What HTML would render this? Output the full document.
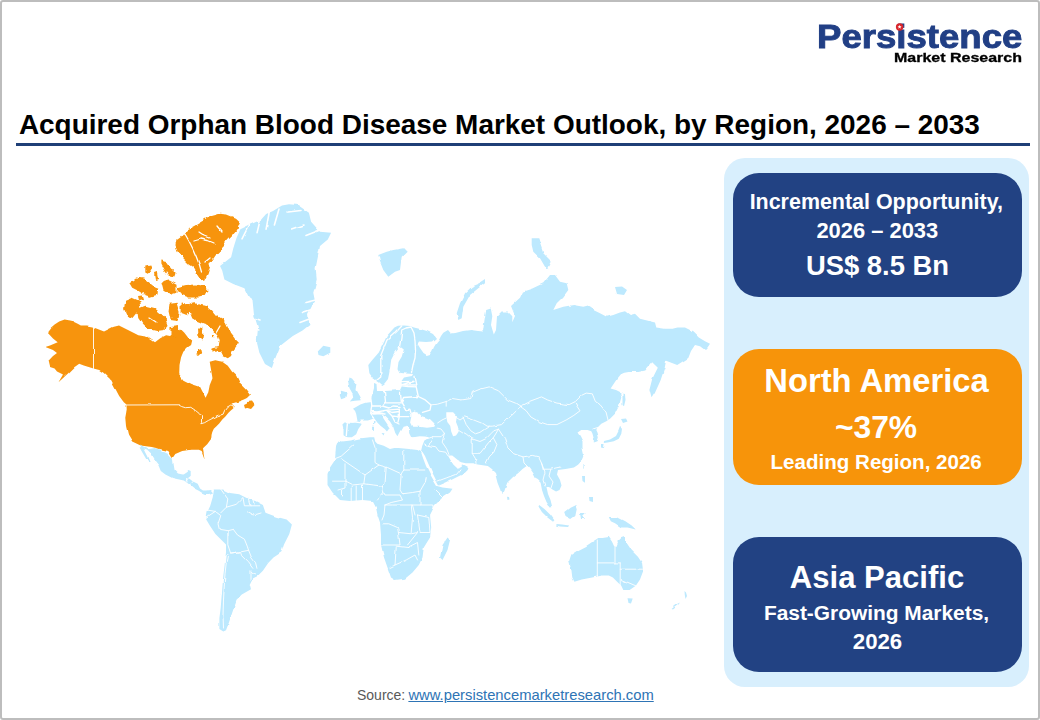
<!DOCTYPE html>
<html><head><meta charset="utf-8">
<style>
html,body{margin:0;padding:0;background:#fff;}
body{width:1040px;height:720px;position:relative;overflow:hidden;font-family:"Liberation Sans",Arial,sans-serif;}
.t{position:absolute;line-height:1;white-space:nowrap;}
.frame{position:absolute;left:0;top:0;width:1036px;height:716px;border:2px solid #bdbdbd;border-radius:3px;}
.rule{position:absolute;left:16px;top:143.2px;width:1014px;height:3.3px;background:#1f3f77;}
.panel{position:absolute;left:724.4px;top:158.3px;width:305px;height:529px;background:#d8effd;border-radius:21px;}
.box{position:absolute;left:733.2px;width:288.6px;border-radius:26px;}
.navy{background:#224283;}
.orange{background:#f7940a;}
svg.map{position:absolute;left:0;top:0;}
.logo1{position:absolute;left:817.4px;top:21.17px;font-size:32.4px;line-height:1;font-weight:bold;color:#213f85;transform:scaleX(1.129);transform-origin:0 0;-webkit-text-stroke:0.9px #213f85;letter-spacing:0;}
.logo2{position:absolute;left:894.2px;top:51.65px;font-size:12.7px;line-height:1;font-weight:bold;color:#000;transform:scaleX(1.26);transform-origin:0 0;-webkit-text-stroke:0.3px #000;}
.src{position:absolute;left:357px;top:688.45px;font-size:14.0px;line-height:1;color:#595959;white-space:nowrap;}
.src2{position:absolute;left:408.4px;top:687.79px;font-size:14.78px;line-height:1;white-space:nowrap;}
.src2 a{color:#2e74b5;text-decoration:underline;}
</style></head><body>
<div class="frame"></div>
<div class="logo1">Persistence</div><svg style="position:absolute;left:0;top:0" width="1040" height="80"><circle cx="899.6" cy="27" r="3.7" fill="#d9262c"/><path d="M899.6,24.9 L900.2,26.3 L901.6,26.3 L900.5,27.2 L900.9,28.7 L899.6,27.8 L898.3,28.7 L898.7,27.2 L897.6,26.3 L899,26.3Z" fill="#fff"/></svg>
<div class="logo2">Market Research</div>
<div class="rule"></div>
<svg class="map" width="1040" height="720" viewBox="0 0 1040 720">
<defs><filter id="jag2" x="0" y="0" width="100%" height="100%" filterUnits="userSpaceOnUse"><feTurbulence type="fractalNoise" baseFrequency="0.09" numOctaves="2" seed="11"/><feDisplacementMap in="SourceGraphic" scale="2.6" xChannelSelector="R" yChannelSelector="G"/></filter></defs>
<g filter="url(#jag2)"><defs><filter id="jag" x="-5%" y="-5%" width="110%" height="110%"><feTurbulence type="fractalNoise" baseFrequency="0.13" numOctaves="2" seed="5"/><feDisplacementMap in="SourceGraphic" scale="5" xChannelSelector="R" yChannelSelector="G"/></filter></defs>
<path fill="#f7940a" d="M47.2,332.3 L50.0,328.5 L54.6,324.6 L59.2,321.5 L64.6,319.5 L71.5,320.8 L77.7,323.8 L80.8,325.4 L86.9,325.4 L92.3,326.6 L93.5,327.0 L93.5,368.5 L83.8,365.4 L79.2,363.8 L74.6,367.0 L68.5,373.0 L58.5,382.3 L63.0,374.6 L57.0,371.5 L54.6,368.5 L50.0,367.0 L48.5,360.8 L53.0,356.0 L57.0,353.0 L53.0,350.0 L45.4,347.0 L50.0,345.4 L57.7,342.3 L53.0,338.5Z M93.5,327.0 L95.0,328.0 L104.0,331.5 L113.0,327.0 L119.0,325.5 L128.0,330.0 L138.3,335.3 L146.7,336.7 L155.0,342.2 L160.6,338.0 L166.1,335.3 L170.0,336.1 L176.7,331.7 L181.1,329.4 L184.4,332.8 L187.8,337.2 L192.2,340.6 L191.1,345.0 L187.8,347.2 L183.3,351.7 L181.1,357.2 L179.5,365.0 L179.2,374.2 L183.3,379.7 L191.7,383.9 L200.0,386.7 L202.8,392.2 L205.6,397.8 L208.3,392.2 L209.7,385.3 L212.5,378.3 L211.1,370.0 L209.7,361.7 L215.3,360.3 L222.2,361.7 L227.8,365.8 L231.9,371.4 L236.1,375.6 L240.3,383.9 L245.8,389.4 L250.0,395.0 L246.9,398.1 L243.8,399.6 L239.2,401.2 L234.6,402.7 L231.5,403.6 L233.0,405.0 L234.6,406.5 L233.8,408.1 L230.8,410.4 L228.5,412.7 L225.4,416.5 L222.3,419.6 L219.2,423.5 L216.2,426.5 L213.8,428.8 L212.3,431.9 L211.5,435.0 L211.4,438.6 L207.2,444.2 L203.0,448.3 L204.5,458.5 L201.7,451.0 L198.9,449.7 L190.6,449.7 L182.2,451.1 L175.3,453.9 L172.5,458.0 L168.3,451.1 L162.8,449.7 L157.2,448.3 L151.7,446.9 L140.6,445.6 L132.2,441.4 L128.0,434.4 L126.0,426.1 L125.3,417.8 L126.7,409.4 L126.5,404.6 L123.8,402.3 L119.2,396.0 L116.0,390.0 L110.0,379.0 L103.8,373.0 L99.2,370.0 L93.5,368.5Z M247.0,402.0 L252.0,401.5 L254.5,405.0 L251.0,409.0 L247.5,408.0Z M244.0,405.0 L247.0,403.5 L250.0,404.0 L249.0,407.5 L245.0,408.5Z"/>
<path fill="#f7940a" filter="url(#jag)" d="M176.5,240.3 L180.6,237.3 L186.6,230.2 L194.7,226.2 L204.8,220.2 L210.8,216.1 L218.9,213.7 L226.9,214.5 L235.0,217.7 L240.0,222.6 L237.0,230.2 L232.0,236.3 L226.9,241.3 L222.9,247.4 L216.9,253.4 L212.8,259.5 L209.8,266.5 L207.8,273.6 L204.8,279.6 L200.7,280.2 L197.7,275.6 L194.7,269.6 L191.7,266.5 L188.6,264.5 L184.6,260.5 L180.6,256.5 L177.5,250.4 L175.5,245.4Z M178.0,287.0 L186.0,285.0 L196.0,284.5 L205.0,286.0 L208.5,290.0 L206.0,295.5 L198.0,297.5 L188.0,297.5 L181.0,295.0 L177.5,291.0Z M129.2,282.7 L136.2,277.6 L143.3,278.6 L148.3,282.7 L153.3,286.7 L158.4,288.7 L157.4,294.8 L150.3,296.8 L144.3,294.8 L138.2,290.7 L132.2,287.7Z M161.4,259.5 L166.5,260.5 L170.5,266.5 L174.5,271.6 L173.5,276.6 L168.5,275.6 L164.4,270.6 L161.4,264.5Z M145.3,266.5 L150.3,265.5 L152.3,270.6 L149.3,274.6 L145.3,272.6Z M161.4,282.7 L168.5,280.6 L176.5,284.7 L176.5,292.7 L170.5,294.8 L163.4,290.7Z M125.1,300.8 L132.2,297.8 L139.2,300.8 L140.2,306.9 L137.2,312.9 L133.2,317.9 L127.1,315.9 L124.1,308.9Z M137.2,308.9 L145.3,305.8 L154.4,307.9 L160.4,312.9 L166.5,319.0 L168.5,325.0 L164.4,330.0 L156.4,331.0 L148.3,329.0 L142.3,323.0 L138.2,316.9Z M169.5,303.8 L176.5,302.8 L179.6,312.9 L177.5,321.0 L170.5,320.0 L168.5,310.9Z M181.6,303.8 L189.6,302.8 L190.6,310.9 L186.6,314.9 L181.6,312.9Z M170.5,327.0 L178.5,326.0 L181.6,333.1 L176.5,338.0 L170.5,335.0Z M155.0,274.0 L158.0,273.0 L159.0,279.0 L156.0,280.0Z M138.0,296.0 L142.0,295.5 L143.0,299.0 L139.0,300.0Z M190.0,303.9 L195.6,303.3 L200.0,305.0 L206.7,306.1 L212.2,310.6 L216.7,316.1 L222.2,319.4 L225.6,322.8 L227.8,327.2 L230.0,332.8 L234.4,338.3 L238.9,342.8 L235.6,347.2 L232.2,351.7 L231.1,356.1 L227.8,358.3 L223.3,356.1 L221.1,351.7 L216.7,349.4 L211.1,350.6 L212.2,347.2 L217.8,346.1 L218.9,340.6 L216.7,335.0 L212.2,329.4 L207.8,326.1 L202.2,323.9 L196.7,321.7 L192.2,318.3 L190.0,312.8 L189.4,307.2Z M198.0,327.5 L202.0,328.0 L203.3,334.0 L202.0,340.6 L198.5,338.0Z M196.0,349.0 L201.0,348.3 L202.2,353.0 L199.0,356.0 L196.0,354.0Z M212.0,335.0 L214.4,335.5 L214.0,338.3 L212.0,338.0Z"/>
<path fill="#bde9fe" d="M289.0,204.2 L297.8,205.0 L308.9,212.8 L311.1,221.7 L320.0,231.7 L331.1,232.8 L327.8,239.4 L320.0,246.1 L317.8,257.2 L315.6,268.3 L316.7,279.4 L313.3,292.8 L315.0,301.4 L312.2,305.6 L308.0,313.9 L309.4,325.0 L302.5,330.6 L292.8,336.1 L280.3,345.8 L274.7,359.7 L271.9,368.0 L265.0,363.9 L259.4,352.8 L256.7,341.7 L258.0,327.8 L253.9,313.9 L252.5,300.0 L248.9,297.2 L244.4,288.3 L233.3,283.9 L224.4,279.4 L222.2,270.6 L220.0,266.1 L231.1,257.2 L233.3,248.3 L236.5,238.0 L240.4,229.2 L250.8,224.3 L261.2,219.4 L266.1,213.9 L273.0,211.1 L282.0,205.6Z M317.8,351.4 L323.3,345.8 L330.3,347.2 L330.3,352.8 L323.3,356.3 L318.5,354.9Z M140.0,444.6 L148.0,449.2 L155.0,448.0 L159.6,449.2 L163.0,451.5 L167.7,453.8 L171.1,457.3 L172.9,458.5 L173.4,463.0 L174.6,470.0 L178.0,473.4 L182.7,474.6 L186.1,472.3 L188.4,470.0 L190.7,471.1 L190.7,475.8 L188.4,478.0 L193.0,481.5 L197.7,483.8 L200.0,488.4 L203.0,490.5 L207.0,490.5 L211.0,490.0 L213.0,492.5 L209.0,494.0 L205.0,494.0 L201.5,492.5 L198.8,490.7 L194.2,488.4 L188.4,483.8 L183.8,480.4 L178.0,479.2 L172.3,478.0 L165.4,474.6 L160.8,471.1 L158.5,465.4 L153.8,459.6 L150.4,453.8 L147.0,450.5 L142.0,449.0Z M141.0,447.0 L144.0,450.0 L147.5,457.0 L150.0,463.0 L148.5,463.0 L145.0,457.0 L141.5,451.0 L139.5,447.5Z M213.8,489.6 L223.0,489.6 L230.0,493.0 L239.2,494.2 L246.1,497.7 L255.3,501.1 L262.9,504.9 L265.5,512.8 L276.1,516.7 L286.6,519.4 L291.9,524.6 L289.3,533.9 L284.0,544.4 L281.4,552.3 L273.5,557.6 L268.2,562.9 L262.9,570.8 L257.6,576.1 L252.3,578.7 L249.7,584.0 L251.0,589.3 L241.8,594.6 L236.5,599.8 L233.9,607.8 L231.2,615.7 L228.6,623.6 L226.0,630.2 L223.3,631.5 L219.4,628.9 L219.4,618.3 L220.7,607.8 L222.0,591.9 L223.3,576.1 L224.6,565.5 L226.0,552.3 L226.0,544.4 L220.7,539.2 L215.4,533.9 L210.1,526.0 L206.2,519.4 L207.5,511.5 L210.1,506.2 L212.8,496.9Z M338.2,440.5 L336.0,446.0 L335.0,460.0 L330.0,467.5 L327.5,475.0 L327.5,485.0 L332.5,492.5 L340.0,500.0 L350.0,501.0 L362.5,500.0 L372.5,501.0 L376.0,507.5 L377.5,515.0 L380.0,522.5 L381.0,535.0 L381.0,545.0 L384.0,557.5 L387.5,567.5 L391.0,577.5 L395.0,580.0 L405.0,578.8 L412.5,572.5 L418.8,565.0 L422.5,557.5 L423.8,547.5 L430.0,537.5 L431.2,527.5 L430.0,515.0 L435.0,505.0 L442.5,497.5 L450.0,492.5 L452.5,488.8 L442.5,487.5 L437.0,486.0 L434.0,481.0 L430.0,474.0 L426.0,466.0 L423.0,458.0 L421.0,452.0 L417.5,450.0 L409.1,449.0 L398.5,447.9 L394.3,447.9 L390.0,449.0 L383.7,445.8 L377.3,443.7 L375.2,441.6 L374.2,437.3 L369.9,437.3 L359.3,438.4 L349.8,440.5 L341.3,441.6Z M381.5,433.0 L384.5,433.2 L383.5,435.5Z M373.0,425.7 L375.0,425.7 L375.0,430.0 L373.2,430.0Z M374.0,421.0 L375.5,421.0 L375.3,424.0 L374.0,424.0Z M442.5,545.0 L447.5,537.5 L450.0,540.0 L447.5,550.0 L442.5,560.0 L440.0,557.5Z M346.6,437.3 L343.5,435.2 L343.5,428.9 L342.4,424.6 L344.5,422.5 L353.0,422.8 L357.5,421.0 L356.2,414.0 L355.1,410.9 L353.0,408.8 L360.4,404.5 L366.0,402.5 L369.9,401.3 L371.5,397.0 L373.0,392.0 L374.0,388.0 L374.0,383.0 L376.5,384.0 L377.0,391.0 L385.0,391.0 L393.0,390.5 L400.0,390.0 L402.0,386.0 L401.5,381.0 L404.0,377.5 L412.0,376.0 L413.0,374.0 L406.0,373.5 L401.0,373.0 L399.6,373.3 L397.5,369.2 L398.5,361.9 L401.7,356.7 L403.8,349.4 L399.6,346.3 L395.4,351.5 L391.2,359.8 L390.2,367.1 L389.2,373.3 L388.0,379.0 L384.5,383.5 L382.3,385.0 L379.5,382.5 L376.5,380.5 L372.5,377.5 L369.4,373.3 L368.3,365.0 L372.5,359.8 L378.8,352.5 L382.9,344.2 L387.0,335.8 L394.4,327.5 L398.0,325.8 L404.0,325.4 L410.0,326.0 L414.0,327.5 L420.0,329.0 L427.0,331.0 L433.0,334.0 L436.0,338.0 L432.0,341.5 L426.0,342.0 L419.0,341.5 L417.5,344.0 L420.0,348.0 L423.5,353.0 L426.7,355.0 L430.0,354.0 L432.0,351.5 L434.0,347.0 L436.5,343.0 L439.0,340.0 L441.0,336.0 L443.3,332.7 L448.0,330.0 L451.0,333.5 L455.4,333.0 L463.0,331.0 L470.8,330.0 L478.0,331.0 L483.0,331.5 L484.6,319.2 L486.2,310.0 L490.8,308.5 L492.3,316.2 L491.0,325.0 L493.8,334.6 L496.0,330.0 L497.0,316.2 L501.5,311.5 L507.7,311.5 L512.3,316.2 L512.3,322.3 L515.0,316.0 L511.0,306.0 L520.0,297.7 L523.0,291.5 L532.3,288.5 L543.3,283.3 L550.0,275.0 L555.0,275.0 L560.0,281.7 L566.7,283.3 L568.3,290.0 L563.3,296.7 L556.7,303.3 L553.3,310.0 L563.3,306.7 L573.3,305.0 L583.3,306.7 L590.0,305.0 L593.3,310.0 L600.0,313.3 L606.7,316.7 L613.3,315.0 L620.0,312.5 L625.0,311.3 L630.0,315.0 L635.0,313.8 L640.0,318.8 L650.0,321.3 L655.0,322.5 L656.3,327.5 L665.0,328.8 L672.5,328.8 L677.5,327.5 L685.0,327.5 L692.5,331.3 L698.8,337.5 L705.0,341.3 L710.0,343.8 L707.5,347.5 L705.0,350.0 L700.0,346.3 L695.0,345.0 L691.0,351.0 L688.3,358.0 L677.2,365.0 L666.1,360.8 L664.7,367.8 L660.6,380.3 L655.0,392.8 L651.5,398.3 L649.4,390.0 L652.2,378.9 L657.8,367.8 L652.2,362.2 L645.3,370.6 L638.3,372.0 L628.6,372.0 L621.7,373.3 L616.1,380.3 L610.6,388.6 L616.0,390.0 L620.0,392.0 L621.3,397.5 L618.8,406.3 L615.0,413.8 L610.0,418.8 L606.3,421.3 L601.3,423.8 L597.5,427.5 L596.3,430.0 L597.5,432.5 L598.8,437.5 L597.5,441.3 L593.8,442.5 L593.8,438.8 L592.5,433.8 L591.3,431.3 L587.5,430.0 L581.3,430.0 L577.5,432.5 L580.0,436.3 L582.5,441.3 L582.5,448.8 L583.8,455.0 L581.3,461.3 L578.0,464.7 L573.9,467.5 L565.6,468.9 L558.0,470.0 L557.0,474.5 L560.0,480.0 L561.5,485.5 L559.5,490.0 L556.0,491.5 L552.5,489.5 L549.0,487.0 L546.5,487.0 L548.0,494.0 L550.5,500.0 L552.0,506.0 L549.5,506.5 L546.5,502.0 L544.0,496.0 L542.0,490.0 L540.6,482.8 L537.8,480.0 L535.0,478.6 L532.2,473.1 L529.4,468.9 L526.7,466.1 L522.5,468.9 L518.3,473.1 L512.8,477.2 L507.2,482.8 L504.4,491.1 L501.7,495.3 L500.3,489.7 L497.5,482.8 L496.1,477.2 L494.7,471.7 L491.9,468.9 L487.8,466.1 L484.4,465.6 L477.8,464.4 L472.2,463.3 L466.7,463.3 L462.2,462.2 L457.8,460.0 L452.2,455.6 L447.8,455.6 L451.1,461.1 L453.3,464.4 L456.7,467.8 L460.0,466.7 L463.3,464.4 L467.8,466.7 L466.7,470.0 L462.2,474.4 L455.6,477.8 L446.7,482.2 L439.0,485.6 L436.0,480.0 L432.0,472.0 L428.0,463.0 L425.0,456.0 L422.5,452.0 L421.1,451.1 L422.2,446.0 L424.0,441.5 L427.1,439.4 L429.0,437.2 L425.0,436.5 L419.7,436.3 L415.0,437.0 L411.2,437.3 L409.1,433.1 L409.1,427.8 L407.0,425.7 L402.7,426.7 L399.6,432.0 L397.4,436.3 L395.3,433.1 L393.2,426.7 L390.0,421.5 L385.8,417.2 L381.6,414.0 L383.5,418.5 L386.5,423.0 L389.5,427.5 L388.5,429.5 L386.9,431.5 L384.7,428.9 L380.5,425.7 L377.3,422.5 L374.2,418.3 L371.0,419.5 L367.8,420.4 L363.5,420.6 L360.4,420.4 L361.5,424.6 L358.3,428.9 L356.2,434.2 L351.9,437.3Z M349.5,377.5 L352.0,378.5 L356.4,383.9 L355.5,390.0 L359.2,396.5 L360.8,400.3 L355.0,400.8 L349.8,401.6 L353.2,397.5 L352.2,393.0 L349.4,388.0 L348.3,382.5Z M341.1,390.8 L346.7,392.2 L345.3,397.8 L341.1,399.2 L339.7,395.0Z M378.3,255.0 L386.7,251.7 L393.3,250.0 L403.3,248.3 L406.7,251.7 L401.7,256.7 L400.0,270.0 L395.0,271.7 L388.3,276.7 L383.3,270.0 L380.0,261.7Z M485.0,280.0 L480.0,283.3 L471.7,286.7 L465.0,293.3 L460.0,303.3 L456.7,313.3 L458.3,320.0 L461.7,318.3 L463.3,306.7 L470.0,295.0 L478.3,288.3 L485.0,283.3Z M531.7,238.3 L538.3,238.3 L543.3,253.3 L551.7,261.7 L548.3,268.3 L545.0,266.7 L540.0,258.3 L533.3,251.7 L531.7,245.0Z M615.0,287.0 L622.0,286.5 L627.0,290.0 L624.0,295.0 L617.0,294.0Z M622.5,392.5 L625.0,393.0 L625.5,400.0 L624.0,406.3 L622.5,405.0Z M621.0,419.0 L626.0,418.5 L627.5,421.5 L623.0,423.0Z M620.0,427.0 L622.0,428.8 L621.3,433.8 L618.8,438.8 L613.8,441.3 L607.5,442.5 L603.8,443.0 L604.0,441.0 L610.0,439.5 L616.0,436.0 L618.5,431.0Z M601.0,444.0 L603.5,444.0 L603.0,448.0 L601.0,447.5Z M582.5,465.0 L584.0,465.5 L583.8,469.0 L582.3,468.5Z M507.0,496.7 L509.0,497.0 L509.5,499.4 L507.5,500.0Z M539.2,505.0 L544.7,509.2 L550.3,514.7 L554.4,520.3 L553.0,521.7 L547.5,517.5 L541.9,511.9 L538.5,506.4Z M564.2,511.9 L569.7,507.8 L575.3,505.0 L576.7,509.2 L575.3,516.1 L571.1,518.9 L565.6,516.1Z M556.7,524.0 L562.0,524.5 L569.2,525.4 L568.0,527.0 L560.0,526.5 L556.0,525.5Z M580.0,513.0 L585.8,513.0 L583.0,516.0 L585.0,519.0 L581.0,519.0Z M608.8,517.1 L617.1,517.1 L625.4,521.3 L631.7,525.4 L635.8,529.6 L627.5,527.5 L621.3,527.5 L615.0,523.3 L610.8,521.3Z M582.0,476.0 L585.0,476.0 L585.0,482.8 L582.5,481.0Z M589.0,497.0 L593.0,497.0 L593.0,502.0 L589.5,501.0Z M571.3,554.6 L577.5,550.4 L585.8,546.3 L592.1,542.1 L598.3,537.9 L602.5,537.9 L608.8,536.9 L611.9,541.5 L614.0,546.0 L616.5,547.0 L618.0,543.0 L617.1,542.1 L621.3,537.9 L624.4,536.9 L627.5,544.2 L631.7,550.4 L637.9,556.7 L642.1,562.9 L643.1,571.3 L640.0,579.6 L635.8,585.8 L629.6,590.0 L623.3,590.0 L621.3,585.8 L617.1,581.7 L612.9,577.5 L608.8,575.4 L602.5,575.4 L592.1,577.5 L581.7,579.6 L574.4,581.7 L572.3,577.5 L571.3,569.2 L569.2,560.8Z M627.5,598.3 L632.7,598.5 L631.0,603.5 L628.5,603.0Z M683.5,591.0 L685.0,592.5 L686.0,596.0 L684.5,599.0 L683.8,595.0Z M680.0,602.5 L678.5,604.5 L672.0,609.5 L670.5,609.0 L676.0,604.5Z"/>
<path fill="#fff" d="M411.2,413.0 L414.6,411.5 L418.6,413.0 L421.8,416.2 L426.0,417.5 L430.2,419.3 L434.5,423.6 L433.4,426.7 L426.0,427.8 L418.6,426.7 L412.2,426.7 L410.1,422.5 L411.2,417.2Z M446.3,412.3 L453.1,412.3 L456.9,416.2 L456.0,421.9 L457.9,426.7 L458.8,431.5 L456.0,435.4 L453.1,436.3 L451.2,431.5 L450.2,425.8 L447.3,421.9 L446.3,416.2Z"/>
<g fill="none" stroke="#fff" stroke-linejoin="round" stroke-linecap="round">
<path stroke-width="0.9" d="M93.5,327.0 L93.5,368.5 M126.7,405.0 L178.5,404.8 L181.5,406.5 L185.4,407.7 L190.8,407.3 L195.4,410.4 L199.2,413.5 L201.5,416.5 L201.5,422.7 L200.8,423.8 L204.6,422.7 L208.5,420.4 L213.1,418.1 L217.7,415.8 L223.1,414.2 L224.6,410.4 L226.9,407.3 L230.8,405.0 L233.1,405.8 L233.8,408.1"/>
<path stroke-width="0.9" d="M446.2,406.2 L446.2,401.5 L452.3,398.5 L461.5,400.0 L470.8,398.5 L472.3,392.3 L480.0,389.2 L489.2,386.9 L498.5,390.8 L503.1,395.4 L507.7,400.0 L515.4,403.1 L520.0,406.2 M520.0,406.2 L515.4,410.8 L510.8,415.4 L506.2,420.0 L501.5,424.6 L492.3,426.2 L486.2,426.2 L481.5,423.1 L473.8,420.0 L464.6,416.9 L460.0,420.0 L455.4,416.9 L449.2,415.4 M520.0,406.2 L529.2,401.5 L541.5,396.9 L547.7,400.0 L556.9,403.1 L569.2,404.6 L575.4,401.5 L581.5,395.4 L586.2,393.1 L592.3,393.8 L595.4,401.5 L600.0,404.6 L606.0,412.0 L608.0,420.0 M520.0,406.2 L526.2,410.8 L530.8,416.9 L538.5,421.5 L547.7,424.6 L556.9,424.6 L566.2,420.0 L573.8,415.4 L580.0,410.8 L576.9,406.2 L575.4,403.1 M593.0,429.0 L597.5,427.5 M463.0,417.0 L466.2,424.6 L470.8,430.8 L475.4,433.8 L480.0,432.3 L484.6,429.2 L489.2,426.2 M457.8,428.9 L466.7,434.4 L472.2,438.9 L472.2,453.3 L475.6,458.9 L476.0,463.5 M472.2,453.3 L480.0,453.3 L488.9,442.2 L493.3,437.8 L498.5,429.2 M472.2,438.9 L480.0,441.5 L486.2,438.5 L490.8,433.8 L493.8,430.8 L498.5,429.2 M493.3,437.8 L496.9,444.6 L493.8,452.3 L489.2,456.9 L486.2,463.1 M498.5,429.2 L504.6,438.5 L507.7,447.7 L513.8,453.8 L523.1,456.9 L532.3,455.4 L538.5,456.9 L541.5,463.1 L543.1,469.2 M543.1,469.2 L550.8,469.2 L556.9,467.7 L561.0,467.0 M523.0,457.0 L524.0,463.0 L527.0,466.0 M541.5,463.1 L545.0,472.0 L543.0,480.0 L545.0,486.0 M550.8,469.2 L549.0,476.0 L553.0,482.0 L551.0,488.0 M437.7,422.9 L442.0,420.0 L446.3,418.0 M426.7,438.9 L433.3,436.7 L441.1,436.7 L444.4,433.3 L441.0,429.0 L437.0,428.0 M444.4,433.3 L442.2,442.2 L446.7,448.9 L448.9,454.4 M424.5,444.0 L427.8,445.6 L435.6,446.7 L438.9,451.1 L445.6,452.2 L447.8,455.6 M433.3,436.7 L432.0,441.0 L427.8,445.6 M437.8,481.1 L446.7,477.8 L455.6,474.4 L460.0,468.9 M431.0,404.9 L438.0,404.0 L446.2,401.5 M372.5,440.0 L375.0,447.5 L375.0,462.5 L378.8,465.0 M403.8,450.5 L403.8,470.0 M403.8,470.0 L423.8,470.0 M378.8,465.0 L387.5,467.5 L401.2,473.8 L403.8,470.0 M341.2,458.8 L365.0,475.0 L378.8,465.0 M353.8,445.0 L341.2,456.2 L328.8,461.2 M345.0,463.8 L345.0,481.2 L332.5,481.2 M365.0,475.0 L363.8,483.8 L352.5,485.0 L345.0,481.2 M386.2,467.5 L385.0,483.8 L382.5,486.2 M363.8,483.8 L372.5,485.0 L382.5,486.2 M401.2,473.8 L400.0,490.0 L402.5,493.8 M402.5,493.8 L412.5,492.5 L420.0,491.2 M420.0,491.2 L425.0,482.5 L426.2,477.5 M435.0,490.0 L443.8,498.8 L435.0,510.0 M382.5,486.2 L383.8,492.5 L377.5,500.0 M383.8,492.5 L385.0,495.0 L400.0,495.0 L402.5,500.0 L391.2,502.5 L385.0,505.0 M342.5,490.0 L342.5,495.0 M351.2,486.0 L351.2,501.0 M356.2,486.0 L356.2,501.0 M362.5,485.0 L362.5,500.5 M345.0,481.2 L345.0,488.0 L338.0,490.0 M385.0,505.0 L392.5,505.0 L412.5,505.0 L415.0,515.0 M420.0,505.0 L433.8,505.0 L435.0,515.0 M412.5,505.0 L420.0,505.0 L420.0,491.2 M382.5,523.8 L388.8,523.8 L397.5,527.5 L398.8,535.0 L400.0,545.0 L380.0,545.0 M396.2,546.2 L407.5,547.5 M396.2,547.5 L395.0,565.0 L390.0,567.5 M395.0,565.0 L406.2,560.0 L415.0,555.0 L417.5,560.0 M398.8,532.5 L411.2,533.8 L417.5,532.5 L407.5,545.0 M411.2,505.0 L412.5,517.5 L411.2,532.5 M417.5,515.0 L428.8,517.5 L430.0,532.5 L420.0,532.5 L417.5,515.0 M407.5,547.5 L417.5,542.5 L418.8,555.0 M385.0,505.0 L384.0,515.0 L382.0,520.0 M220.8,489.2 L227.8,498.9 L226.4,507.2 L220.8,512.8 M226.4,507.2 L236.1,504.4 L243.0,497.5 L244.4,505.8 L259.7,505.8 M248.0,498.0 L250.0,505.8 M253.0,500.0 L254.5,505.8 M206.9,510.0 L215.3,511.4 L220.8,515.6 L218.0,523.9 L219.4,529.4 L227.8,530.8 L233.3,529.4 M206.9,517.0 L215.3,511.4 M233.3,529.4 L237.5,535.0 L244.4,539.2 L247.2,546.1 L248.6,550.3 L241.7,551.7 L230.6,553.1 L227.8,544.7 L227.8,530.8 M227.8,554.4 L226.4,561.4 L225.0,573.9 L224.3,585.0 L223.5,600.0 L223.0,615.0 L223.5,628.0 M230.6,553.1 L240.3,551.7 L241.7,555.8 L248.6,562.8 L252.8,568.3 M248.6,550.3 L251.4,557.2 L255.6,562.8 L256.9,568.3 M250.0,571.1 L255.6,573.9 M250.0,571.1 L250.0,579.4 M597.3,540.0 L597.3,576.5 M597.3,562.9 L620.2,562.9 M615.0,537.0 L615.0,562.9 M620.2,562.9 L620.2,588.0 M620.2,569.2 L642.5,569.2 M621.3,579.6 L635.8,585.8 M188.4,478.0 L186.0,481.0 M193.0,481.5 L191.0,484.0 M247.5,511.0 L252.0,513.5 L256.0,514.5 L261.0,513.0 M186.5,478.5 L187.0,482.0"/>
<path stroke-width="1.35" d="M414.0,376.3 L416.2,386.9 L418.3,396.5 L424.7,399.6 L431.0,404.9 L430.0,410.2 L422.5,412.3 M402.4,385.9 L408.0,386.5 L416.2,386.9 M401.4,402.8 L403.5,397.5 L418.3,396.5 M401.4,402.8 L405.6,410.2 L409.8,409.2 L411.0,413.0 M400.0,381.6 L413.0,381.5 L401.0,384.8 L414.5,385.0 M369.9,401.3 L370.7,397.5 M370.7,397.5 L371.7,404.9 L370.7,414.4 L373.5,418.0 M384.4,391.2 L385.5,401.7 M371.7,406.0 L382.3,406.0 L385.5,401.7 M385.5,402.8 L401.4,402.8 M400.3,391.2 L401.4,402.8 M371.7,411.5 L377.0,412.0 L386.6,410.2 L399.3,409.2 M373.5,414.0 L380.5,413.5 L385.0,414.0 M386.6,410.2 L392.0,416.0 L399.3,416.6 L409.8,416.6 M392.0,416.0 L395.0,422.0 L399.0,424.0 M399.3,409.2 L399.3,416.6 L398.0,422.0 M347.4,422.9 L346.3,435.6 M350.6,421.9 L356.0,422.0 L361.2,422.9 M376.5,380.5 L380.8,377.0 L380.8,366.0 L380.8,355.6 L387.0,340.0 L396.5,331.7 L401.7,326.0 M399.6,346.3 L401.0,338.0 L401.7,330.0 L406.0,328.0 L411.0,327.0 M411.0,327.0 L414.0,333.0 L415.0,340.0 L415.5,350.0 L415.0,358.0 L413.0,365.0 L411.5,372.5 M367.0,399.0 L371.0,399.5 M366.0,402.0 L370.0,401.5 M382.3,406.0 L389.0,408.0 L393.0,406.0 L399.0,406.5 M386.6,410.2 L392.0,412.5 L399.3,411.5 M371.0,414.0 L377.0,412.5 L383.0,413.5"/>
<path stroke-width="1.3" d="M185.0,234.0 L189.0,241.0 L192.5,248.0 L196.0,256.0 L199.5,265.0 L201.5,272.0 M194.0,241.0 L201.0,239.0 L208.0,240.5 L214.0,243.0 M199.0,232.0 L205.0,236.0 L210.0,238.0 M217.0,226.0 L222.0,232.0 M211.0,341.0 L216.0,333.0 L220.0,326.0 M150.0,318.0 L156.0,322.0 M205.0,262.0 L210.0,258.0"/>
<path stroke-width="1.6" d="M249.0,225.0 L242.0,238.9 M260.5,218.5 L257.1,232.6 M269.0,213.5 L266.1,229.2 M279.0,209.0 L274.4,225.0 M301.0,210.5 L288.0,212.0 M304.0,225.0 L292.5,229.0 M306.0,235.5 L320.0,230.0 M305.0,302.5 L318.0,299.5 M302.5,312.5 L316.0,308.0 M300.0,322.5 L312.0,318.0 M252.0,317.5 L260.0,320.0 M252.5,327.5 L258.8,330.0"/>
</g></g>
</svg>
<div class="panel"></div>
<div class="box navy" style="top:173px;height:124px;"></div>
<div class="box orange" style="top:349px;height:136px;"></div>
<div class="box navy" style="top:536.5px;height:135.5px;"></div>
<div class="t" style="left:18.9px;top:110.55px;font-size:27.94px;color:#000;font-weight:bold;">Acquired Orphan Blood Disease Market Outlook, by Region, 2026 – 2033</div><div class="t" style="left:576.3px;width:600px;text-align:center;top:191.94px;font-size:21.45px;color:#fff;font-weight:bold;">Incremental Opportunity,</div><div class="t" style="left:577.3px;width:600px;text-align:center;top:219.56px;font-size:21.9px;color:#fff;font-weight:bold;">2026 – 2033</div><div class="t" style="left:577.5px;width:600px;text-align:center;top:251.61px;font-size:27.4px;color:#fff;font-weight:bold;">US$ 8.5 Bn</div><div class="t" style="left:576.5px;width:600px;text-align:center;top:365.48px;font-size:32.75px;color:#fff;font-weight:bold;">North America</div><div class="t" style="left:576.0px;width:600px;text-align:center;top:411.58px;font-size:31.8px;color:#fff;font-weight:bold;">~37%</div><div class="t" style="left:576.2px;width:600px;text-align:center;top:452.40px;font-size:20.55px;color:#fff;font-weight:bold;">Leading Region, 2026</div><div class="t" style="left:577.0px;width:600px;text-align:center;top:561.72px;font-size:31.05px;color:#fff;font-weight:bold;">Asia Pacific</div><div class="t" style="left:576.5px;width:600px;text-align:center;top:603.21px;font-size:20.9px;color:#fff;font-weight:bold;">Fast-Growing Markets,</div><div class="t" style="left:577.5px;width:600px;text-align:center;top:630.71px;font-size:22.2px;color:#fff;font-weight:bold;">2026</div>
<div class="src">Source:</div><div class="src2"><a>www.persistencemarketresearch.com</a></div>
</body></html>
